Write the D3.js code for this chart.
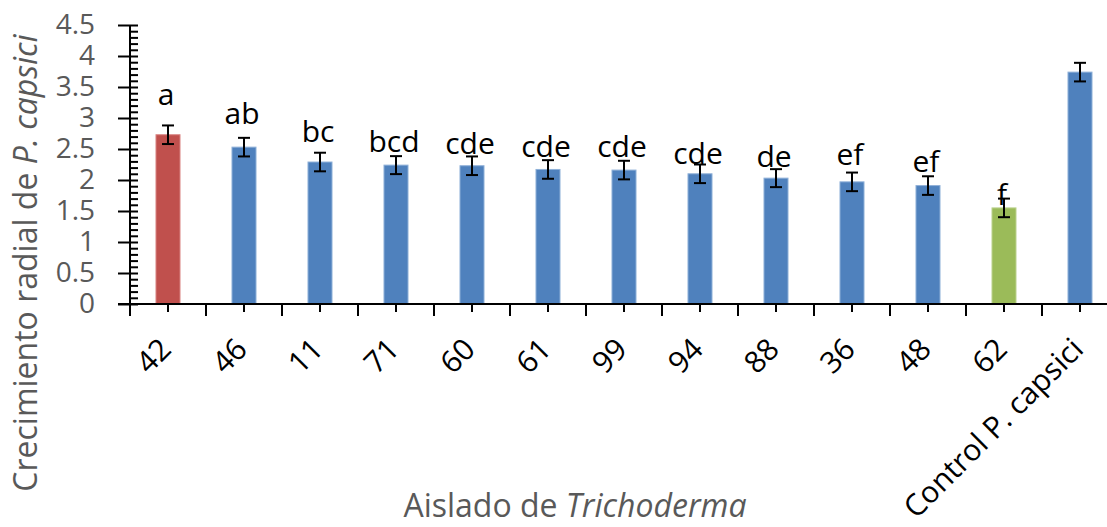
<!DOCTYPE html>
<html>
<head>
<meta charset="utf-8">
<script src="https://cdn.jsdelivr.net/npm/d3@7"></script>
<style>
  html, body { margin: 0; padding: 0; background: #fff; }
  svg { display: block; font-family: "Open Sans", "Noto Sans", sans-serif; }
</style>
</head>
<body>
<svg id="chart" width="1107" height="527"></svg>
<script>
// Radial growth of P. capsici against each Trichoderma isolate
const categories = ["42", "46", "11", "71", "60", "61", "99", "94", "88", "36", "48", "62", "Control P. capsici"];
const growth     = [2.73, 2.53, 2.29, 2.24, 2.23, 2.17, 2.16, 2.10, 2.03, 1.97, 1.91, 1.55, 3.74];
const stdError   = [0.15, 0.15, 0.15, 0.145, 0.15, 0.15, 0.15, 0.15, 0.145, 0.15, 0.15, 0.15, 0.15];
const letters    = ["a", "ab", "bc", "bcd", "cde", "cde", "cde", "cde", "de", "ef", "ef", "f", ""];
const yTicks     = [0, 0.5, 1, 1.5, 2, 2.5, 3, 3.5, 4, 4.5];

const svg = d3.select("#chart");

const x = d3.scaleBand().domain(categories).range([130, 1118]).padding(0);
const y = d3.scaleLinear().domain([0, 4.5]).range([304, 25]);

const barFill = (d, i) => i === 0 ? "#C0504D" : (i === 11 ? "#9BBB59" : "#4F81BD");
const barEdge = (d, i) => i === 0 ? "#d98583" : (i === 11 ? "#bcd38f" : "#8fb0d8");
const barW = x.bandwidth() * 0.316;

// bars
svg.append("g").selectAll("rect")
  .data(growth)
  .join("rect")
  .attr("x", (d, i) => x(categories[i]) + x.bandwidth() / 2 - barW / 2)
  .attr("y", d => y(d))
  .attr("width", barW)
  .attr("height", d => y(0) - y(d))
  .attr("fill", barFill)
  .attr("stroke", barEdge)
  .attr("stroke-width", 1);

// error bars
const eb = svg.append("g").attr("stroke", "#000").attr("stroke-width", 2);
growth.forEach((v, i) => {
  const cx = x(categories[i]) + x.bandwidth() / 2;
  const top = y(v + stdError[i]), bot = y(v - stdError[i]);
  eb.append("line").attr("x1", cx).attr("x2", cx).attr("y1", top).attr("y2", bot);
  eb.append("line").attr("x1", cx - 6).attr("x2", cx + 6).attr("y1", top).attr("y2", top);
  eb.append("line").attr("x1", cx - 6).attr("x2", cx + 6).attr("y1", bot).attr("y2", bot);
});

// significance letters, lifted above each error bar
const letterLift = [20, 14, 11, 4, 2, 3, 4, 1, 2, 8, 4, -6, 0];
svg.append("g").selectAll("text")
  .data(letters)
  .join("text")
  .attr("x", (d, i) => x(categories[i]) + x.bandwidth() / 2 - 2)
  .attr("y", (d, i) => y(growth[i] + stdError[i]) - letterLift[i])
  .attr("text-anchor", "middle")
  .attr("font-size", 30)
  .attr("fill", "#000")
  .text(d => d);

// y axis: major ticks cross to the left, minor ticks to the right
const yLeft = svg.append("g").attr("transform", "translate(130,0)")
  .call(d3.axisLeft(y).tickValues(yTicks).tickSize(12).tickPadding(23).tickFormat(d3.format("")));
yLeft.select(".domain").remove();
yLeft.selectAll("line").attr("stroke", "#000").attr("stroke-width", 2);
yLeft.selectAll("text").attr("font-size", 28).attr("fill", "#595959").attr("font-family", "Open Sans, sans-serif");

const minor = d3.range(0, 45.5, 1).map(k => k / 10);
const yRight = svg.append("g").attr("transform", "translate(130,0)")
  .call(d3.axisRight(y).tickValues(minor).tickSize(8).tickFormat(""));
yRight.select(".domain").attr("d", `M0,${y(4.5)}V${y(0)}`).attr("stroke", "#000").attr("stroke-width", 2);
yRight.selectAll("line").attr("stroke", "#000").attr("stroke-width", 2);

// x axis: long ticks at category edges, short ticks at centres
const xAxisG = svg.append("g").attr("transform", `translate(0,${y(0)})`);
xAxisG.append("line")
  .attr("x1", 118).attr("x2", 1118).attr("y1", 0).attr("y2", 0)
  .attr("stroke", "#000").attr("stroke-width", 2);
const edges = categories.map(c => x(c)).concat([x.range()[1]]);
xAxisG.selectAll("line.edge").data(edges).join("line").attr("class", "edge")
  .attr("x1", d => d).attr("x2", d => d).attr("y1", 0).attr("y2", 12)
  .attr("stroke", "#000").attr("stroke-width", 2);
xAxisG.selectAll("line.mid").data(categories).join("line").attr("class", "mid")
  .attr("x1", d => x(d) + x.bandwidth() / 2).attr("x2", d => x(d) + x.bandwidth() / 2)
  .attr("y1", 0).attr("y2", 8)
  .attr("stroke", "#000").attr("stroke-width", 2);

xAxisG.selectAll("text.cat").data(categories).join("text").attr("class", "cat")
  .attr("transform", d => `translate(${x(d) + x.bandwidth() / 2 + 5},${47}) rotate(-45)`)
  .attr("text-anchor", "end")
  .attr("font-size", 30)
  .attr("fill", "#000")
  .text(d => d);

// axis titles
const yTitle = svg.append("text")
  .attr("transform", "translate(37,263) rotate(-90)")
  .attr("text-anchor", "middle")
  .attr("font-size", 32)
  .attr("fill", "#595959");
yTitle.append("tspan").text("Crecimiento radial de ");
yTitle.append("tspan").attr("font-style", "italic").text("P. capsici");

const xTitle = svg.append("text")
  .attr("x", 575).attr("y", 517)
  .attr("text-anchor", "middle")
  .attr("font-size", 32)
  .attr("fill", "#595959");
xTitle.append("tspan").text("Aislado de ");
xTitle.append("tspan").attr("font-style", "italic").text("Trichoderma");
</script>
</body>
</html>
